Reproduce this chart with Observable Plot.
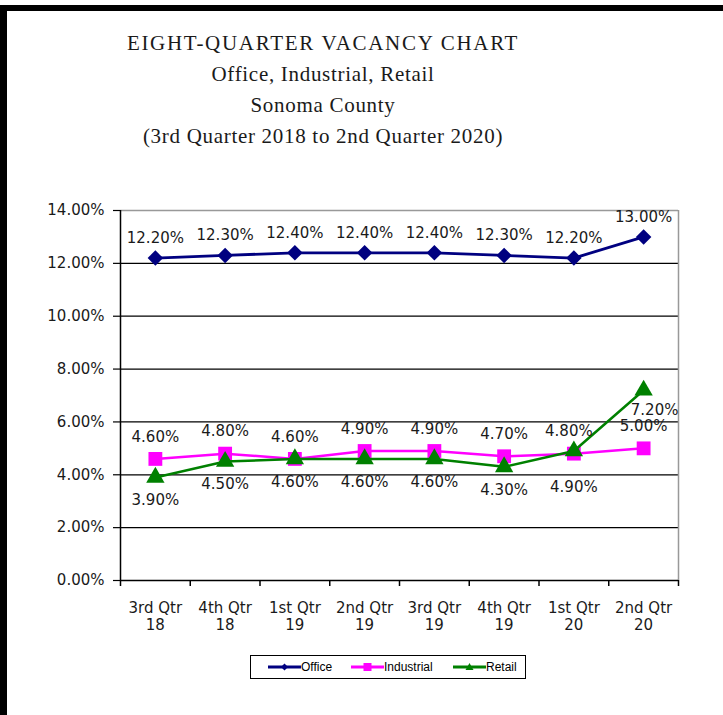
<!DOCTYPE html>
<html>
<head>
<meta charset="utf-8">
<script src="https://cdn.jsdelivr.net/npm/d3@7"></script>
<script src="https://cdn.jsdelivr.net/npm/@observablehq/plot@0.6"></script>
<style>
  html, body { margin: 0; padding: 0; background: #fff; }
  #page { position: relative; width: 723px; height: 715px; overflow: hidden; background: #fff; }
  #frame { position: absolute; left: 0; top: 5px; right: 0; bottom: 0; border-top: 6px solid #000; border-left: 7px solid #000; box-sizing: border-box; }
  #title { position: absolute; left: 0; top: 28px; width: 646px; text-align: center; font-family: "Liberation Serif", "DejaVu Serif", serif; font-size: 21px; line-height: 31px; color: #1a1a1a; letter-spacing: 0.7px; }
  #title .t1 { letter-spacing: 1.7px; }
  #chart { position: absolute; left: 0; top: 170px; }
  #legend { position: absolute; left: 250px; top: 655px; width: 276px; height: 24px; border: 1px solid #000; box-sizing: border-box; font-family: "Liberation Sans", Arial, sans-serif; font-size: 12px; color: #000; }
  .li { position: absolute; top: 0; height: 22px; display: flex; align-items: center; }
  .li svg { display: block; }
</style>
</head>
<body>
<div id="page">
  <div id="frame"></div>
  <div id="title">
    <div class="t1">EIGHT-QUARTER VACANCY CHART</div>
    <div>Office, Industrial, Retail</div>
    <div>Sonoma County</div>
    <div>(3rd Quarter 2018 to 2nd Quarter 2020)</div>
  </div>
  <div id="chart"></div>
  <div id="legend"></div>
</div>
<script>
// ---- data ----
const quarters = ["3rd Qtr\n18", "4th Qtr\n18", "1st Qtr\n19", "2nd Qtr\n19", "3rd Qtr\n19", "4th Qtr\n19", "1st Qtr\n20", "2nd Qtr\n20"];
const office = [12.2, 12.3, 12.4, 12.4, 12.4, 12.3, 12.2, 13.0];
const industrial = [4.6, 4.8, 4.6, 4.9, 4.9, 4.7, 4.8, 5.0];
const retail = [3.9, 4.5, 4.6, 4.6, 4.6, 4.3, 4.9, 7.2];
const seriesNames = ["Office", "Industrial", "Retail"];
const yTicks = [0, 2, 4, 6, 8, 10, 12, 14];

// ---- build ----
const rows = (vals) => vals.map((v, i) => ({i, q: quarters[i], v}));
const officeRows = rows(office);
const industrialRows = rows(industrial);
const retailRows = rows(retail);
const colors = {Office: "#000080", Industrial: "#ff00ff", Retail: "#008000"};
const fmt = v => v.toFixed(2) + "%";
const xc = d => d.i + 0.5;
const n = quarters.length;

const plot = Plot.plot({
  width: 723,
  height: 480,
  marginLeft: 120,
  marginRight: 45,
  marginTop: 40,
  marginBottom: 70,
  style: {fontFamily: "DejaVu Sans, sans-serif", fontSize: "15px", color: "#1a1a1a", background: "transparent", overflow: "visible"},
  x: {domain: [0, n], axis: null},
  y: {domain: [yTicks[0], yTicks[yTicks.length - 1]], axis: null},
  marks: [
    Plot.ruleY(yTicks.slice(1, -1), {stroke: "#000", strokeWidth: 1.2}),
    Plot.ruleY([yTicks[yTicks.length - 1]], {stroke: "#999", strokeWidth: 1.5}),
    Plot.ruleX([n], {stroke: "#999", strokeWidth: 1.5}),
    Plot.axisY(yTicks, {tickSize: 7, tickPadding: 9, tickFormat: fmt, stroke: "#000", strokeWidth: 1.2, label: null}),
    Plot.axisX(d3.range(n + 1), {tickSize: 6, tickFormat: () => "", stroke: "#000", strokeWidth: 1.5, label: null}),
    Plot.axisX(d3.range(n).map(i => i + 0.5), {tickSize: 0, tickPadding: 21, lineHeight: 1.1, tickFormat: v => quarters[Math.floor(v)], label: null}),
    Plot.ruleX([0], {stroke: "#000", strokeWidth: 1.5}),
    Plot.ruleY([0], {stroke: "#000", strokeWidth: 1.5}),
    // Office
    Plot.line(officeRows, {x: xc, y: "v", stroke: colors.Office, strokeWidth: 2.8}),
    Plot.dot(officeRows, {x: xc, y: "v", symbol: "diamond2", r: 7, fill: colors.Office, stroke: "none"}),
    // Industrial
    Plot.line(industrialRows, {x: xc, y: "v", stroke: colors.Industrial, strokeWidth: 2.5}),
    Plot.dot(industrialRows, {x: xc, y: "v", symbol: "square", r: 7.8, fill: colors.Industrial, stroke: "none"}),
    // Retail
    Plot.line(retailRows, {x: xc, y: "v", stroke: colors.Retail, strokeWidth: 2.5}),
    Plot.dot(retailRows, {x: xc, y: "v", symbol: "triangle", r: 6.8, fill: colors.Retail, stroke: "none"}),
    // labels
    Plot.text(officeRows, {x: xc, y: "v", text: d => fmt(d.v), dy: -20, fill: "#1a1a1a"}),
    Plot.text(industrialRows.filter(d => d.i !== n - 2), {x: xc, y: "v", text: d => fmt(d.v), dy: -22, fill: "#1a1a1a"}),
    Plot.text(industrialRows.filter(d => d.i === n - 2), {x: xc, y: "v", text: d => fmt(d.v), dy: -22, dx: -5, fill: "#1a1a1a"}),
    Plot.text(retailRows.filter(d => d.i < n - 2), {x: xc, y: "v", text: d => fmt(d.v), dy: 23, fill: "#1a1a1a"}),
    Plot.text(retailRows.filter(d => d.i === n - 2), {x: xc, y: "v", text: d => fmt(d.v), dy: 36, fill: "#1a1a1a"}),
    Plot.text(retailRows.filter(d => d.i === n - 1), {x: xc, y: "v", text: d => fmt(d.v), dy: 20, dx: 11, fill: "#1a1a1a"})
  ]
});
document.getElementById("chart").appendChild(plot);

// ---- legend ----
const legend = document.getElementById("legend");
const legendLeft = [17, 100, 202];
const symbolPaths = {
  Office: '<path d="M16.5,1.5 L20,5 L16.5,8.5 L13,5 Z"/>',
  Industrial: '<rect x="12.5" y="1" width="8" height="8"/>',
  Retail: '<path d="M16.5,1 L20.5,8 L12.5,8 Z"/>'
};
seriesNames.forEach((name, k) => {
  const el = document.createElement("div");
  el.className = "li";
  el.style.left = legendLeft[k] + "px";
  el.innerHTML = `<svg width="33" height="10" viewBox="0 0 33 10"><line x1="0" x2="33" y1="5" y2="5" stroke="${colors[name]}" stroke-width="3"/><g fill="${colors[name]}">${symbolPaths[name]}</g></svg><span>${name}</span>`;
  legend.appendChild(el);
});
</script>
</body>
</html>
